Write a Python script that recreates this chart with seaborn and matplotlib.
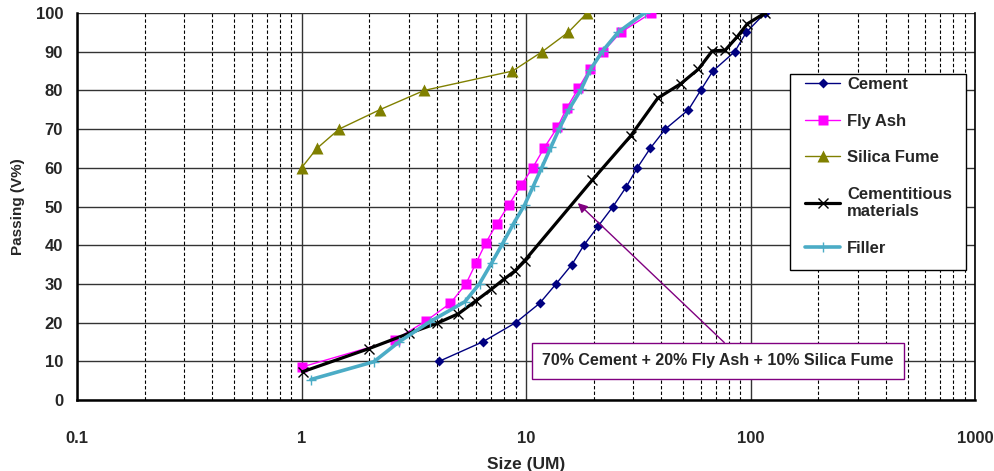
import matplotlib
matplotlib.use("Agg")
import matplotlib.pyplot as plt
from matplotlib.patches import Rectangle
import seaborn as sns
import pandas as pd

# particle size distributions (size in um, % passing)
cement_size = [4.1, 6.4, 9.0, 11.5, 13.6, 16.0, 18.1, 21.0, 24.4, 27.9, 31.3, 35.7, 41.7, 52.9, 59.9, 67.9, 85.0, 95.7, 116]
cement_pass = [10, 15, 20, 25, 30, 35, 40, 45, 50, 55, 60, 65, 70, 75, 80, 85, 90, 95, 100]

flyash_size = [1.0, 2.6, 3.6, 4.6, 5.4, 6.0, 6.6, 7.4, 8.4, 9.5, 10.7, 12.0, 13.8, 15.2, 17.1, 19.2, 22.0, 26.4, 36.1]
flyash_pass = [8.5, 15.5, 20.5, 25, 30, 35.5, 40.5, 45.5, 50.5, 55.5, 60, 65, 70.5, 75.5, 80.5, 85.5, 90, 95, 100]

silica_size = [1.0, 1.17, 1.47, 2.23, 3.52, 8.7, 11.8, 15.4, 18.7]
silica_pass = [60, 65, 70, 75, 80, 85, 90, 95, 100]

cementitious_size = [1.01, 2.0, 3.0, 4.0, 5.0, 6.0, 7.0, 8.0, 8.9, 9.85, 19.7, 29.2, 38.6, 48.8, 58.6, 67.5, 77.1, 87.3, 96.7, 116]
cementitious_pass = [7.3, 13.3, 17.2, 19.8, 22.3, 25.7, 28.6, 31.3, 33.3, 36, 56.8, 68.2, 78, 81.7, 85.5, 90.2, 90.4, 93.9, 97.2, 100]

filler_size = [1.1, 2.1, 2.73, 3.72, 5.34, 6.21, 7.04, 7.89, 8.8, 9.85, 10.8, 11.8, 12.9, 14.1, 15.6, 17.6, 19.3, 22.0, 25.8, 33.7]
filler_pass = [5.3, 9.9, 15.1, 20.2, 25.4, 30.1, 35.5, 40.6, 45.6, 50.4, 55.4, 60.3, 65.3, 70.3, 75.3, 80.3, 85.3, 90.3, 95.1, 100]

sns.set_style("white")
plt.rcParams["font.family"] = ["Liberation Sans", "DejaVu Sans"]
plt.rcParams["font.weight"] = "bold"

fig = plt.figure(figsize=(9.95, 4.71), dpi=100)
ax = fig.add_axes([0.0774, 0.1507, 0.9026, 0.8217])

series = [
    ("Cement", cement_size, cement_pass, "#000080", "D", 5.5, 1.0, 0, "none"),
    ("Fly Ash", flyash_size, flyash_pass, "#FF00FF", "s", 7.5, 1.0, 0, "none"),
    ("Silica Fume", silica_size, silica_pass, "#808000", "^", 8, 1.0, 0, "none"),
    ("Cementitious\nmaterials", cementitious_size, cementitious_pass, "#000000", "x", 7, 2.3, 1.0, None),
    ("Filler", filler_size, filler_pass, "#4BACC6", "+", 7, 2.6, 1.0, None),
]
for name, xs, ys, col, mk, ms, lw, mew, mec in series:
    df = pd.DataFrame({"size": xs, "passing": ys})
    kw = dict(markeredgecolor=col, markeredgewidth=mew) if mec is None else dict(markeredgecolor="none")
    sns.lineplot(data=df, x="size", y="passing", ax=ax, color=col, marker=mk,
                 markersize=ms, linewidth=lw, sort=False, estimator=None,
                 label=name, zorder=3, **kw)

ax.set_xscale("log")
ax.set_xlim(0.1, 1000)
ax.set_ylim(0, 100)
ax.set_yticks(range(0, 101, 10))
ax.set_xticks([0.1, 1, 10, 100, 1000])
ax.set_xticklabels(["0.1", "1", "10", "100", "1000"])
ax.grid(True, which="major", axis="both", color="#333333", linestyle="-", linewidth=1.0)
ax.grid(True, which="minor", axis="x", color="black", linestyle=(0, (3, 2)), linewidth=0.8)
ax.set_axisbelow(True)
ax.tick_params(axis="both", which="major", labelsize=12, length=4, direction="out", width=1)
ax.tick_params(axis="x", which="minor", length=4, direction="out", width=0.8)
ax.tick_params(axis="x", which="major", pad=18)
ax.tick_params(axis="y", which="major", pad=6)
for lbl in ax.get_xticklabels() + ax.get_yticklabels():
    lbl.set_fontweight("bold")
for s in ["left", "bottom"]:
    ax.spines[s].set_linewidth(1.8)
    ax.spines[s].set_color("black")
ax.spines["top"].set_visible(False)
ax.spines["right"].set_color("black")
ax.spines["right"].set_linewidth(1.2)

ax.set_xlabel("Size (UM)", fontsize=12.5, fontweight="bold", labelpad=8)
ax.set_ylabel("Passing (V%)", fontsize=11, fontweight="bold", labelpad=8)

# legend frame drawn as a separate box (Excel style: tight top, roomy bottom)
ax.add_patch(Rectangle((0.794, 0.336), 0.196, 0.506, transform=ax.transAxes,
                       fc="white", ec="black", lw=1.0, zorder=4, clip_on=False))
leg = ax.legend(loc="upper left", bbox_to_anchor=(0.811, 0.835), frameon=False,
                labelspacing=1.3, handlelength=2.1, handletextpad=0.4,
                borderpad=0, borderaxespad=0,
                prop={"weight": "bold", "size": 12})
leg.set_zorder(5)

ax.annotate("70% Cement + 20% Fly Ash + 10% Silica Fume", xy=(17.0, 50.9), xytext=(71.7, 10.1),
            fontsize=11.5, fontweight="bold", ha="center", va="center",
            bbox=dict(boxstyle="square,pad=0.65", fc="white", ec="#800080", lw=1.0),
            arrowprops=dict(arrowstyle="-|>", color="#800080", lw=1.0, mutation_scale=14,
                            shrinkA=0, shrinkB=0, relpos=(0.55, 1.0)),
            zorder=5)

fig.savefig("out.png", dpi=100)
